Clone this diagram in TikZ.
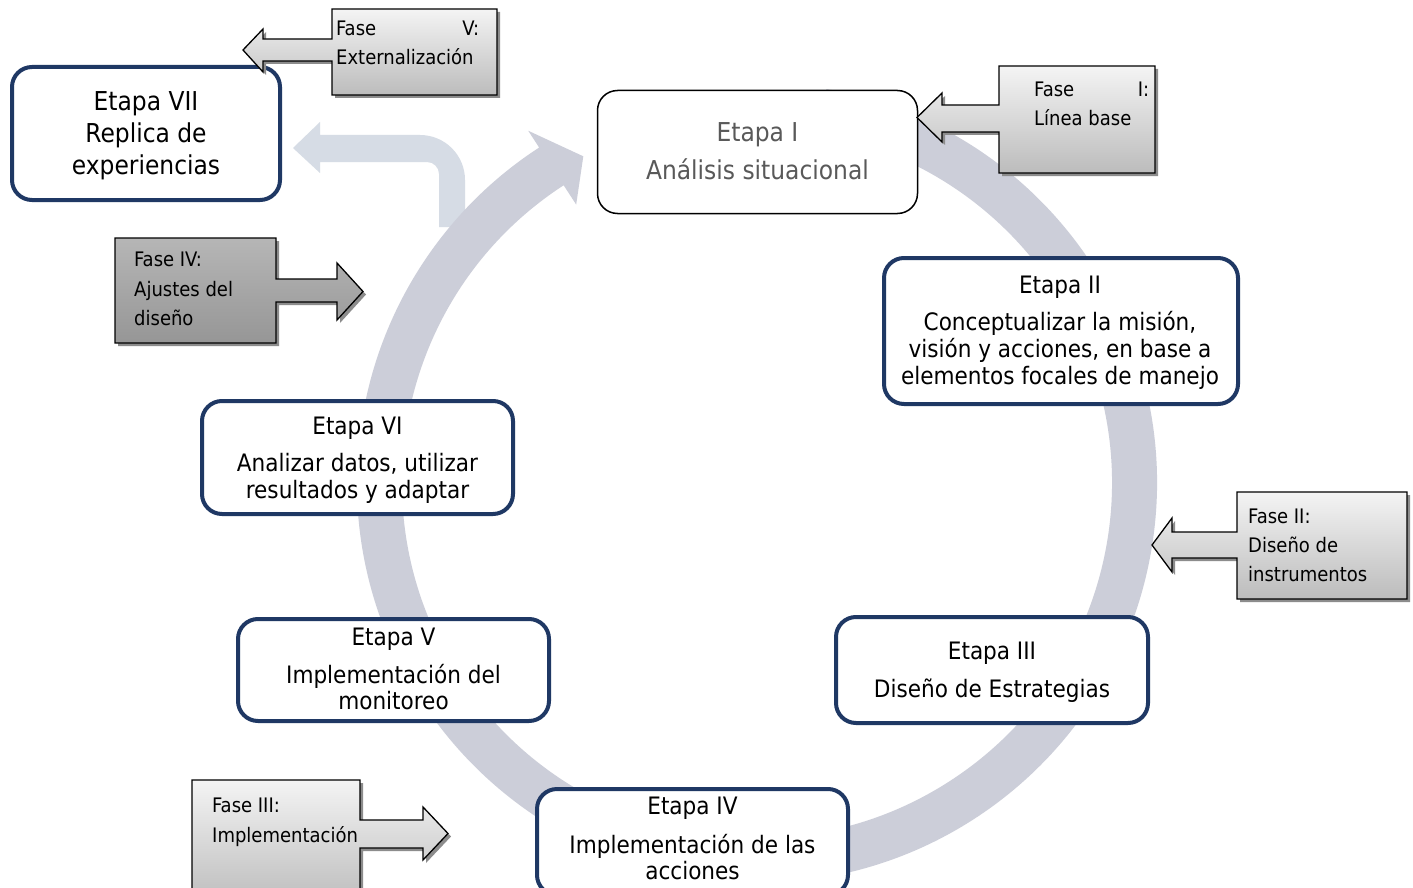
\documentclass[tikz,border=0pt]{standalone}
\usepackage{fontspec}
\setmainfont{DejaVu Sans Condensed}
\usetikzlibrary{shadows}
\definecolor{ringc}{RGB}{204,206,217}
\definecolor{lbc}{RGB}{214,220,229}
\definecolor{dblue}{RGB}{31,56,100}
\definecolor{gtxt}{RGB}{89,89,89}
\definecolor{fasetop}{RGB}{244,244,244}
\definecolor{fasebot}{RGB}{188,188,188}
\definecolor{darktop}{RGB}{182,182,182}
\definecolor{darkbot}{RGB}{150,150,150}
\begin{document}
\begin{tikzpicture}[x=1pt,y=-1pt,
  etapa/.style={draw=dblue, line width=4pt, rounded corners=20pt, fill=white, inner sep=0pt},
  etapaone/.style={draw=black, line width=1.5pt, rounded corners=20pt, fill=white, inner sep=0pt},
  big/.style={font=\fontsize{26}{30}\selectfont, inner sep=0pt, anchor=base},
  mid/.style={font=\fontsize{24}{28}\selectfont, inner sep=0pt, anchor=base},
  fasetxt/.style={font=\fontsize{20}{24}\selectfont, inner sep=0pt, anchor=base west},
  callout/.style={draw=black, line width=1.3pt, top color=fasetop, bottom color=fasebot,
    drop shadow={shadow xshift=3pt, shadow yshift=-3pt, fill=black!45, opacity=1}},
  darkcallout/.style={callout, top color=darktop, bottom color=darkbot},
]
\path[use as bounding box] (0,0) rectangle (1413,888);
\clip (0,0) rectangle (1413,888);
\fill[white] (0,0) rectangle (1413,888);

% light blue bent arrow
\fill[lbc] (465,227) -- (465,180) arc[start angle=0, end angle=-90, radius=45] -- (320,135) -- (320,122) -- (293,148) -- (320,173) -- (320,162) -- (427,162) arc[start angle=-90, end angle=0, radius=12] -- (439,227) -- cycle;

% ring arrow
\begin{scope}[shift={(757,483)}]
\fill[ringc] (-80:400) arc[start angle=-80, end angle=237, radius=400] -- (237:420) -- (242:370) -- (237:332) -- (237:355) arc[start angle=237, end angle=-80, radius=355] -- cycle;
\end{scope}

% Etapa boxes
\node[etapa, minimum width=268, minimum height=133] (e7) at (146,133.5) {};
\node[big] (e7a) at (146,110.5) {Etapa VII};
\node[big] (e7b) at (146,142.5) {Replica de};
\node[big] (e7c) at (146,174.5) {experiencias};

\node[etapaone, minimum width=320, minimum height=123] (e1) at (757.5,152) {};
\node[big, text=gtxt] (e1a) at (757.5,142) {Etapa I};
\node[big, text=gtxt] (e1b) at (757.5,179) {Análisis situacional};

\node[etapa, minimum width=354, minimum height=146] (e2) at (1061,331) {};
\node[mid] (e2a) at (1060,293.5) {Etapa II};
\node[mid] (e2b) at (1060,330.5) {Conceptualizar la misión,};
\node[mid] (e2c) at (1060,357.5) {visión y acciones, en base a};
\node[mid] (e2d) at (1060,384.5) {elementos focales de manejo};

\node[etapa, minimum width=311, minimum height=113] (e6) at (357.5,457.5) {};
\node[mid] (e6a) at (357.5,434.5) {Etapa VI};
\node[mid] (e6b) at (357.5,471.5) {Analizar datos, utilizar};
\node[mid] (e6c) at (357.5,498.5) {resultados y adaptar};

\node[etapa, minimum width=312, minimum height=106] (e3) at (992,670) {};
\node[mid] (e3a) at (992,659.5) {Etapa III};
\node[mid] (e3b) at (992,697.5) {Diseño de Estrategias};

\node[etapa, minimum width=311, minimum height=102] (e5) at (393.5,670) {};
\node[mid] (e5a) at (393.5,645.5) {Etapa V};
\node[mid] (e5b) at (393.5,683.5) {Implementación del};
\node[mid] (e5c) at (393.5,709.5) {monitoreo};

\node[etapa, minimum width=311, minimum height=106] (e4) at (692.5,842) {};
\node[mid] (e4a) at (692.5,814.5) {Etapa IV};
\node[mid] (e4b) at (692.5,853.5) {Implementación de las};
\node[mid] (e4c) at (692.5,879.5) {acciones};

% Fase callouts
\path[callout] (332,9) -- (497,9) -- (497,95) -- (332,95) -- (332,61) -- (263,61) -- (263,72) -- (243,50) -- (263,29) -- (263,39) -- (332,39) -- cycle;
\node[fasetxt] (f5a) at (336,36) {\makebox[143pt][l]{Fase\hfill V:}};
\node[fasetxt] (f5b) at (336,65) {Externalización};

\path[callout] (999,66) -- (1155,66) -- (1155,173) -- (999,173) -- (999,132) -- (942,132) -- (942,142) -- (917,117.5) -- (942,93) -- (942,105) -- (999,105) -- cycle;
\node[fasetxt] (f1a) at (1034,97) {\makebox[115pt][l]{Fase\hfill I:}};
\node[fasetxt] (f1b) at (1034,126) {Línea base};

\path[darkcallout] (276,238) -- (115,238) -- (115,343) -- (276,343) -- (276,302) -- (337,302) -- (337,320) -- (363,291.5) -- (337,263) -- (337,279) -- (276,279) -- cycle;
\node[fasetxt] (f4a) at (134,266) {Fase IV:};
\node[fasetxt] (f4b) at (134,296) {Ajustes del};
\node[fasetxt] (f4c) at (134,325) {diseño};

\path[callout] (1237,492) -- (1407,492) -- (1407,599) -- (1237,599) -- (1237,558) -- (1172,558) -- (1172,572) -- (1152,545) -- (1172,518) -- (1172,532) -- (1237,532) -- cycle;
\node[fasetxt] (f2a) at (1248,523) {Fase II:};
\node[fasetxt] (f2b) at (1248,552) {Diseño de};
\node[fasetxt] (f2c) at (1248,581) {instrumentos};

\path[callout] (360,780) -- (192,780) -- (192,905) -- (360,905) -- (360,848) -- (423,848) -- (423,860) -- (448,833.5) -- (423,807) -- (423,820) -- (360,820) -- cycle;
\node[fasetxt] (f3a) at (212,812) {Fase III:};
\node[fasetxt] (f3b) at (212,842) {Implementación};
\end{tikzpicture}
\end{document}
